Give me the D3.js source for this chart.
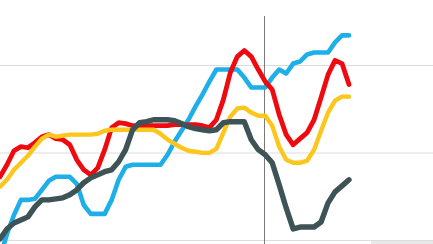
<!DOCTYPE html>
<html lang="en">
<head>
  <meta charset="UTF-8">
  <title>Four series</title>
  <script src="https://cdn.jsdelivr.net/npm/d3@7"></script>
  <style>
    body { margin: 0; background: #fff; overflow: hidden; }
    .grid line { stroke: #dcdcdc; stroke-width: 1px; }
    .series { fill: none; stroke-linejoin: round; stroke-linecap: round; }
  </style>
</head>
<body>
  <svg width="433" height="244"></svg>

  <script>
    // values, one per period (0..50)
    var blue = [-9.5, 3.7, 14.6, 23.2, 23.2, 23.8, 28.9, 34.1, 36.4, 36.4,
      36.4, 32.4, 20.3, 15.2, 15.2, 15.2, 23.2, 34.7, 42.1, 43.3,
      43.3, 43.3, 43.3, 43.3, 49.0, 56.4, 62.7, 69.0, 76.5, 83.4,
      90.8, 97.7, 97.7, 97.7, 97.7, 93.1, 87.4, 87.4, 87.4, 93.1,
      97.7, 95.4, 101.1, 102.3, 106.3, 107.4, 107.4, 107.4, 113.2, 117.2, 117.2];

    var red = [36.4, 43.3, 51.3, 53.6, 53.0, 55.9, 59.3, 60.5, 58.2, 57.6,
      54.7, 46.1, 40.4, 37.5, 41.5, 51.9, 64.5, 67.3, 66.8, 65.6,
      65.6, 65.6, 65.6, 65.6, 65.6, 66.2, 66.2, 66.2, 66.2, 65.6,
      64.5, 69.0, 80.5, 96.0, 105.1, 108.6, 105.1, 97.7, 90.8, 86.2,
      71.9, 60.5, 54.7, 58.2, 61.6, 69.0, 81.7, 94.8, 102.9, 101.1, 89.1];

    var yellow = [30.7, 34.7, 40.4, 44.4, 48.4, 53.6, 58.2, 60.5, 59.3, 59.9,
      60.5, 60.5, 60.5, 60.5, 61.0, 62.7, 63.3, 63.3, 63.3, 63.3,
      63.3, 63.3, 63.3, 61.0, 57.6, 55.3, 53.0, 51.3, 50.7, 50.1,
      50.1, 52.4, 61.6, 70.8, 75.4, 75.9, 73.1, 71.3, 71.3, 65.6,
      53.6, 46.1, 44.4, 44.4, 45.6, 51.9, 62.7, 73.1, 79.9, 82.2, 82.2];

    var grey = [0.9, 6.6, 10.0, 11.7, 13.5, 19.2, 23.2, 23.2, 23.8, 24.4,
      26.1, 28.9, 33.0, 35.8, 37.5, 39.3, 40.4, 45.0, 51.9, 63.3,
      67.3, 67.9, 69.0, 69.0, 69.0, 68.5, 66.8, 65.0, 63.9, 63.3,
      62.7, 63.3, 67.3, 67.9, 67.9, 67.9, 57.6, 51.9, 49.0, 44.4,
      31.8, 18.6, 6.6, 7.7, 7.7, 7.7, 10.6, 21.5, 27.8, 31.2, 34.7];

    var gridValues = [0, 50, 100];
    var markerAt = 37.8;

    var seriesList = [
      { name: "blue", values: blue, color: "#1eaee8", width: 4.6 },
      { name: "red", values: red, color: "#ee0a0e", width: 4.8 },
      { name: "yellow", values: yellow, color: "#fcc61c", width: 4.4 },
      { name: "grey", values: grey, color: "#3e5355", width: 5.4 }
    ];

    var svg = d3.select("svg"),
      width = +svg.attr("width"),
      height = +svg.attr("height");

    var x = d3.scaleLinear().domain([0, 50]).range([0, 349]);
    var y = d3.scaleLinear().domain([0, 100]).range([240.5, 65.5]);

    // horizontal grid
    svg.append("g")
      .attr("class", "grid")
      .selectAll("line")
      .data(gridValues)
      .enter().append("line")
      .attr("x1", 0)
      .attr("x2", width)
      .attr("y1", function (d) { return y(d); })
      .attr("y2", function (d) { return y(d); });

    // little grey strip at the bottom right
    svg.append("rect")
      .attr("x", 371)
      .attr("y", y(0) + 0.5)
      .attr("width", width - 371)
      .attr("height", height - y(0))
      .attr("fill", "#e9e9e9");

    // vertical marker
    svg.append("line")
      .attr("x1", Math.round(x(markerAt)) + 0.5)
      .attr("x2", Math.round(x(markerAt)) + 0.5)
      .attr("y1", 16)
      .attr("y2", height)
      .attr("stroke", "#7a7a7a")
      .attr("stroke-width", 1);

    var line = d3.line()
      .x(function (d, i) { return x(i); })
      .y(function (d) { return y(d); });

    svg.selectAll("path.series")
      .data(seriesList)
      .enter().append("path")
      .attr("class", "series")
      .attr("stroke", function (d) { return d.color; })
      .attr("stroke-width", function (d) { return d.width; })
      .attr("d", function (d) { return line(d.values); });
  </script>
</body>
</html>
